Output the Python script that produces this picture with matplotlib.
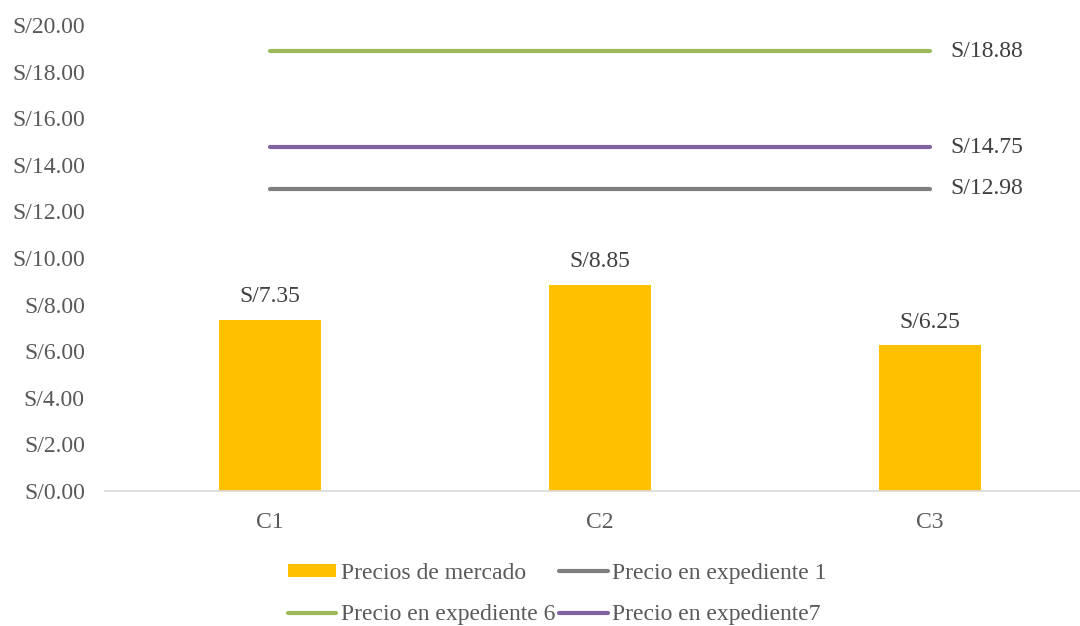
import matplotlib
matplotlib.use("Agg")
import matplotlib.pyplot as plt
import numpy as np

categories = ["C1", "C2", "C3"]
precios_mercado = [7.35, 8.85, 6.25]
expediente_1 = [12.98, 12.98, 12.98]
expediente_6 = [18.88, 18.88, 18.88]
expediente_7 = [14.75, 14.75, 14.75]
y_ticks = [0, 2, 4, 6, 8, 10, 12, 14, 16, 18, 20]

TEXT = "#595959"
plt.rcParams["font.family"] = ["Liberation Serif", "DejaVu Serif"]
FS = 17

fig = plt.figure(figsize=(10.8, 6.26), dpi=100)
ax = fig.add_axes([105 / 1080, 135 / 626, 990 / 1080, 466 / 626])

x = np.arange(len(categories))
bars = ax.bar(x, precios_mercado, width=0.312, color="#FFC000", label="Precios de mercado", zorder=2)
l1, = ax.plot(x, expediente_1, color="#7F7F7F", lw=3, solid_capstyle="round", label="Precio en expediente 1", zorder=3)
l6, = ax.plot(x, expediente_6, color="#9BBB59", lw=3, solid_capstyle="round", label="Precio en expediente 6", zorder=3)
l7, = ax.plot(x, expediente_7, color="#8064A2", lw=3, solid_capstyle="round", label="Precio en expediente7", zorder=3)

for xi, v in zip(x, precios_mercado):
    ax.annotate(f"S/{v:.2f}", (xi, v), xytext=(0, 9), textcoords="offset points",
                ha="center", va="bottom", fontsize=FS, color="#404040")
for series in (expediente_1, expediente_6, expediente_7):
    ax.annotate(f"S/{series[-1]:.2f}", (x[-1], series[-1]), xytext=(15, 0), textcoords="offset points",
                ha="left", va="center", fontsize=FS, color="#404040")

ax.set_xlim(-0.5, 2.5)
ax.set_ylim(0, 20)
ax.set_xticks(x, categories)
ax.set_yticks(y_ticks, [f"S/{t:.2f}" for t in y_ticks])
ax.tick_params(axis="both", length=0, labelsize=FS, colors=TEXT)
ax.tick_params(axis="x", pad=15)
ax.tick_params(axis="y", pad=14.5)
for s in ("top", "right", "left"):
    ax.spines[s].set_visible(False)
ax.spines["bottom"].set_color("#D9D9D9")
ax.spines["bottom"].set_linewidth(1.2)

handles = [bars, l6, l1, l7]
leg = fig.legend(handles=handles, labels=[h.get_label() for h in handles], ncol=2,
                 loc="center", bbox_to_anchor=(0.516, 0.051), frameon=False, fontsize=FS,
                 handlelength=2.05, handleheight=0.5, handletextpad=0.2, columnspacing=0.17,
                 labelspacing=0.85)
for t in leg.get_texts():
    t.set_color(TEXT)

fig.savefig("out.png", dpi=100)
